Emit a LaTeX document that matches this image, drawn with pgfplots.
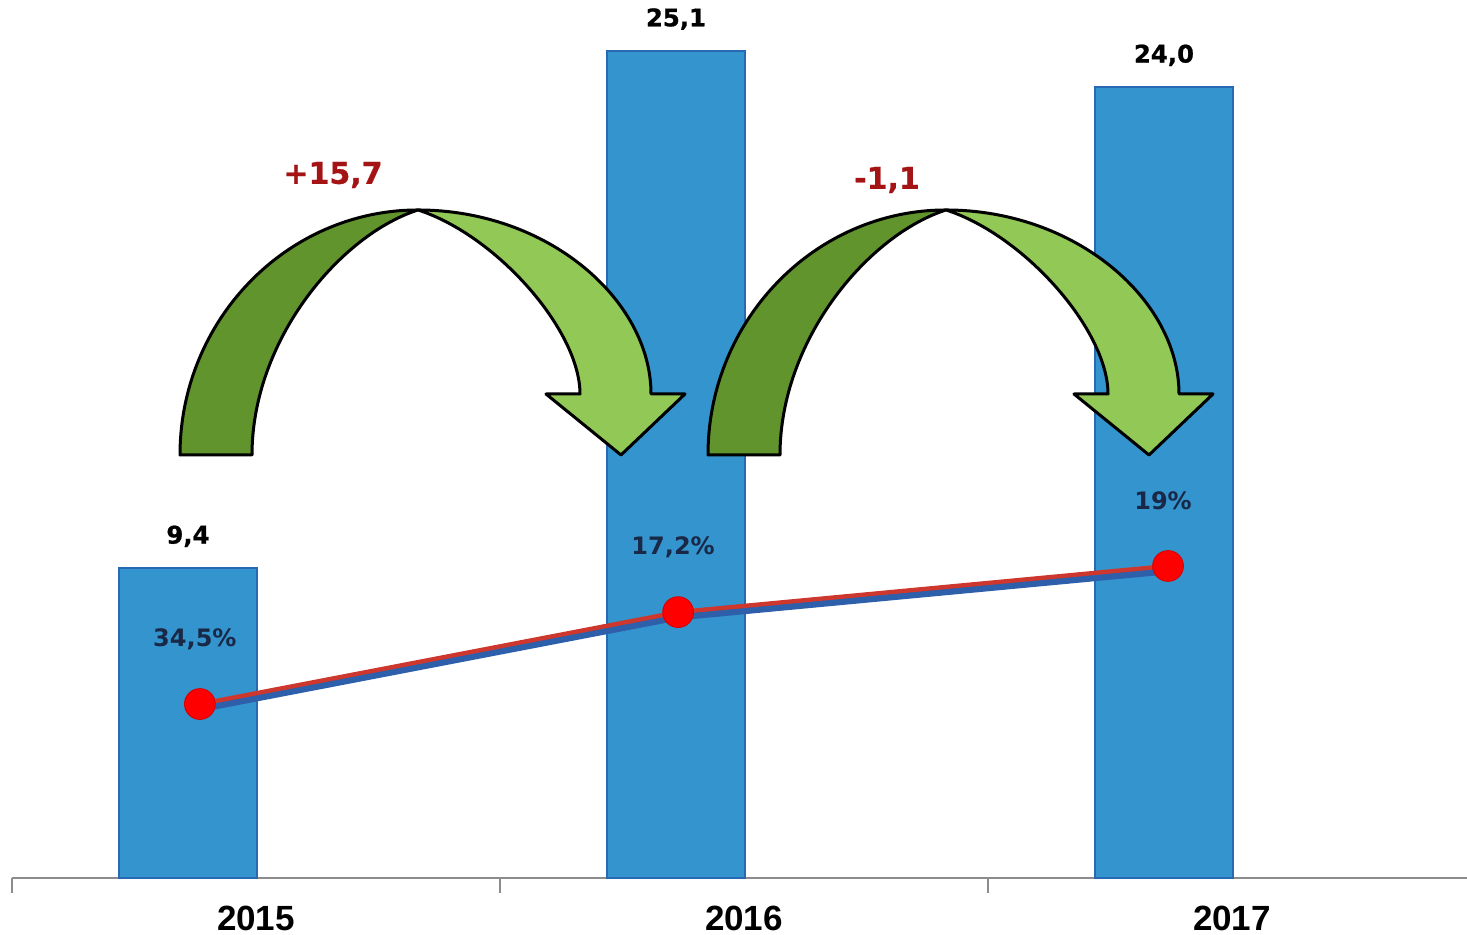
\documentclass[border=0pt]{standalone}
\usepackage{pgfplots}
\pgfplotsset{compat=1.18}
\usepackage{fontspec}
\setmainfont{DejaVu Sans}
\newfontfamily\yearfont{Liberation Sans}
\newfontfamily\heavyfont{DejaVu Sans}[UprightFont={* Bold}, UprightFeatures={FakeBold=0.8}]

\definecolor{barblue}{RGB}{52,148,206}
\definecolor{baredge}{RGB}{40,105,180}
\definecolor{dgreen}{RGB}{98,148,46}
\definecolor{lgreen}{RGB}{146,200,86}
\definecolor{arrowred}{RGB}{165,20,20}
\definecolor{pctnavy}{RGB}{25,40,70}
\definecolor{linered}{RGB}{205,55,45}
\definecolor{shadowblue}{RGB}{45,95,170}
\definecolor{axisgray}{RGB}{140,140,140}

% one curved arrow, in pixel units of the reference (x right, y down)
\newcommand\curvedarrow{%
  \filldraw[fill=dgreen, draw=black, line width=0.9pt, line join=round]
    (180,455) .. controls (180,320) and (287,210) .. (418,210)
    .. controls (340,235) and (252,340) .. (252,455) -- cycle;
  \filldraw[fill=lgreen, draw=black, line width=0.9pt, line join=round]
    (418,210) .. controls (548,210) and (651,300) .. (651,394)
    -- (685,394) -- (621,455) -- (546,394) -- (580,394)
    .. controls (580,330) and (496,235) .. (418,210) -- cycle;
}

\begin{document}
\begin{tikzpicture}
\begin{axis}[
  scale only axis,
  width=436.5pt, height=263.4pt,
  xmin=-0.5, xmax=2.4816,
  ymin=0, ymax=26.65,
  axis x line=bottom, axis y line=none,
  x axis line style={-, draw=axisgray, line width=0.6pt},
  xtick={0,1,2},
  xticklabels={2015,2016,2017},
  minor xtick={-0.5,0.5,1.5},
  tick align=outside,
  major tick length=0pt,
  minor tick length=4.5pt,
  minor tick style={draw=axisgray, line width=0.5pt},
  xticklabel style={font=\yearfont\bfseries\fontsize{10.5}{12}\selectfont, yshift=-5pt},
  /pgf/number format/use comma,
  /pgf/number format/fixed,
  /pgf/number format/fixed zerofill,
  /pgf/number format/precision=1,
  /pgf/number format/assume math mode=true,
  clip=false,
]
% bars
\addplot[ybar, bar width=0.2828, bar shift=-0.139,
  fill=barblue, draw=baredge, line width=0.5pt,
  nodes near coords,
  nodes near coords style={anchor=center, yshift=9.6pt, xshift=-20.4pt, text=black,
    font=\heavyfont\fontsize{7.3}{9}\selectfont}]
  coordinates {(0,9.4) (1,25.1) (2,24.0)};
% shadow of the line
\addplot[shadowblue, line width=2.0pt, no marks, forget plot, yshift=-1.5pt]
  coordinates {(-0.115,5.28) (0.865,8.07) (1.869,9.47)};
% line
\addplot[linered, line width=1.3pt,
  mark=*, mark size=4.6pt,
  mark options={fill=red, draw=red!85!black, line width=0.3pt},
  point meta=explicit symbolic,
  nodes near coords,
  nodes near coords style={anchor=center, yshift=19.5pt, xshift=-1.5pt, text=pctnavy,
    font=\bfseries\fontsize{7.2}{9}\selectfont}]
  coordinates {(-0.115,5.28) [{34,5\%}] (0.865,8.07) [{17,2\%}] (1.869,9.47) [{19\%}]};
\end{axis}
% decorative arrows in reference pixel units
\begin{scope}[x=0.3pt, y=-0.3pt, shift={(-3.6pt,263.4pt)}]
  \curvedarrow
  \begin{scope}[shift={(528,0)}]
    \curvedarrow
  \end{scope}
  \node[text=arrowred, font=\heavyfont\fontsize{9}{11}\selectfont] at (333,175) {+15,7};
  \node[text=arrowred, font=\heavyfont\fontsize{9}{11}\selectfont] at (887,180) {-1,1};
\end{scope}
\pgfresetboundingbox
\useasboundingbox (-3.6pt,-17.1pt) rectangle (436.5pt,263.4pt);
\end{tikzpicture}
\end{document}
